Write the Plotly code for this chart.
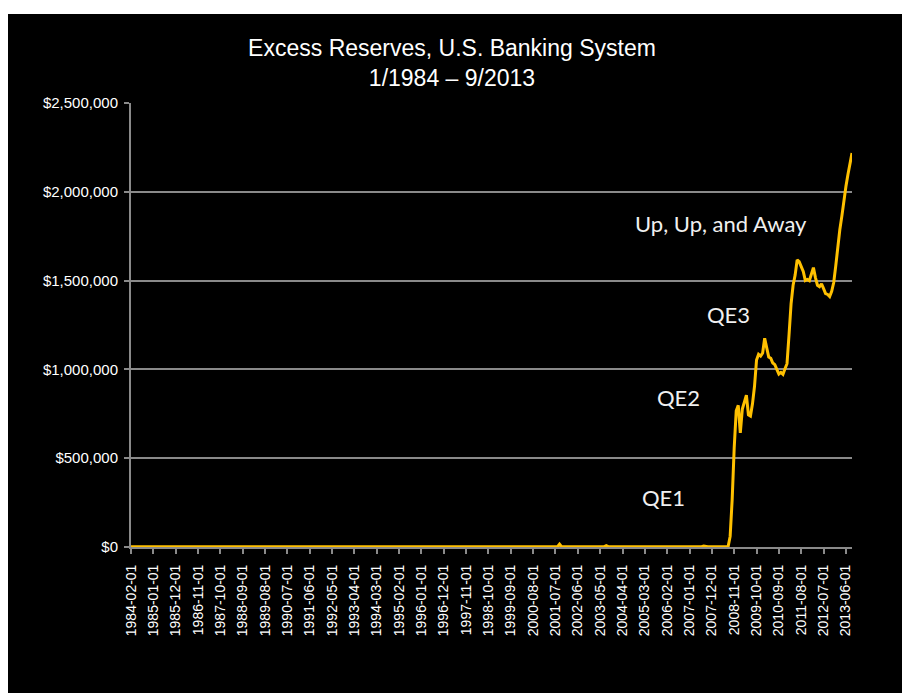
import pandas as pd
import plotly.graph_objects as go

# Excess reserves, millions of US$, monthly from 1984-02 to 2013-09
r1984 = [1000, 929, 1049, 1164, 1217, 1049, 1086, 935, 1013, 1193, 1266]
r1985 = [1204, 1089, 1015, 1236, 1124, 1016, 1148, 1024, 1167, 1100, 1046, 1365]
r1986 = [1305, 1157, 1103, 1216, 1203, 1264, 1197, 1324, 1208, 1310, 1349, 2046]
r1987 = [1454, 1040, 1201, 1183, 1063, 946, 1048, 1001, 930, 1112, 1024, 1080]
r1988 = [1278, 1007, 1048, 947, 1094, 1014, 984, 941, 1074, 1004, 1025, 1176]
r1989 = [1221, 947, 962, 1058, 845, 976, 1009, 1078, 954, 1006, 1032, 997]
r1990 = [1319, 1120, 938, 1025, 872, 1012, 1027, 981, 1060, 1001, 1034, 1385]
r1991 = [1521, 1103, 982, 1081, 1067, 1040, 1111, 1055, 1169, 1012, 1134, 1336]
r1992 = [1315, 1143, 1061, 1111, 1012, 1046, 1141, 1143, 1153, 1182, 1069, 1156]
r1993 = [1233, 1104, 1047, 1090, 1110, 1163, 1115, 1013, 1120, 1045, 1056, 1188]
r1994 = [1359, 1212, 1058, 1191, 1125, 1097, 1086, 1168, 1121, 1087, 1134, 1322]
r1995 = [1308, 1140, 1045, 1158, 1072, 1142, 1168, 1106, 1052, 1038, 1095, 1212]
r1996 = [1386, 1146, 1218, 1245, 1255, 1241, 1266, 1186, 1202, 1232, 1229, 1432]
r1997 = [1366, 1245, 1295, 1312, 1229, 1239, 1336, 1230, 1250, 1247, 1232, 1427]
r1998 = [1533, 1308, 1353, 1338, 1382, 1377, 1395, 1301, 1353, 1385, 1291, 1509]
r1999 = [1584, 1273, 1375, 1354, 1300, 1324, 1310, 1245, 1205, 1298, 1330, 1598]
r2000 = [1480, 1289, 1217, 1345, 1160, 1173, 1226, 1171, 1148, 1171, 1156, 1434]
r2001 = [1392, 1354, 1237, 1353, 1378, 1314, 1359, 1294, 15500, 1553, 1489, 1616]
r2002 = [1622, 1469, 1464, 1570, 1426, 1540, 1510, 1393, 1504, 1435, 1488, 1687]
r2003 = [1745, 1581, 1591, 1708, 1603, 1690, 1699, 7000, 1595, 1672, 1551, 1760]
r2004 = [1775, 1582, 1558, 1695, 1611, 1744, 1715, 1602, 1724, 1735, 1668, 1880]
r2005 = [1782, 1623, 1607, 1704, 1560, 1700, 1729, 1657, 1789, 1653, 1605, 1890]
r2006 = [1751, 1654, 1634, 1699, 1629, 1732, 1710, 1630, 1663, 1651, 1636, 1824]
r2007 = [1706, 1598, 1645, 1654, 1581, 1772, 1574, 6000, 1960, 1709, 1727, 1823]
r2008 = [1622, 1760, 2021, 1845, 1850, 2285, 1880, 1920, 59500, 267000, 559000, 767000]
r2009 = [798000, 642000, 777000, 812000, 855000, 744000, 737000, 806000, 905000, 1053000, 1085000, 1075000]
r2010 = [1092000, 1175000, 1115000, 1070000, 1063000, 1036000, 1027000, 1003000, 974000, 983000, 972000, 1004000]
r2011 = [1032000, 1196000, 1369000, 1474000, 1531000, 1616000, 1606000, 1579000, 1551000, 1501000, 1507000, 1500000]
r2012 = [1537000, 1573000, 1517000, 1474000, 1466000, 1482000, 1455000, 1427000, 1422000, 1410000, 1440000, 1489000]
r2013 = [1583000, 1707000, 1786000, 1863000, 1954000, 2030000, 2097000, 2168000, 2218000]

values = (r1984 + r1985 + r1986 + r1987 + r1988 + r1989 + r1990 + r1991 + r1992 + r1993
          + r1994 + r1995 + r1996 + r1997 + r1998 + r1999 + r2000 + r2001 + r2002 + r2003
          + r2004 + r2005 + r2006 + r2007 + r2008 + r2009 + r2010 + r2011 + r2012 + r2013)

months = [d.strftime("%Y-%m-%d") for d in pd.date_range("1984-02-01", periods=len(values), freq="MS")]
tick_labels = months[::11]

title_text = "Excess Reserves, U.S. Banking System<br>1/1984 – 9/2013"
# annotation centres, page pixels
notes = [("Up, Up, and Away", 721, 223), ("QE3", 728, 314),
         ("QE2", 678, 397), ("QE1", 663, 497)]

OFF = 8  # page body margin
W, H = 902, 685
L, R, T, B = 123, 58, 95, 146
pw, ph = W - L - R, H - T - B

def px_x(p):
    return (p - OFF - L) / pw

def px_y(p):
    return (H - B - (p - OFF)) / ph

fig = go.Figure()
fig.add_trace(go.Scatter(x=months, y=values, mode="lines",
                         line=dict(color="#FFC000", width=3), hoverinfo="skip"))

fig.add_shape(type="rect", xref="paper", yref="paper", layer="below",
              x0=px_x(8), x1=px_x(903), y0=px_y(700), y1=px_y(14),
              fillcolor="black", line=dict(width=0))

for txt, xa, ya in notes:
    fig.add_annotation(text=txt, xref="paper", yref="paper", x=px_x(xa), y=px_y(ya),
                       showarrow=False, xanchor="center", yanchor="middle",
                       font=dict(family="Lato", size=22, color="#f0f0f0"))

fig.update_layout(
    width=W, height=H,
    margin=dict(l=L, r=R, t=T, b=B),
    paper_bgcolor="white", plot_bgcolor="black",
    showlegend=False,
    title=dict(text=title_text, x=(452 - OFF) / W, xref="container", xanchor="center",
               y=1 - 48 / H, yref="container", yanchor="middle",
               font=dict(family="Liberation Sans, Arial", size=23, color="white")),
    xaxis=dict(type="category", range=[0, len(values) - 1],
               tickvals=tick_labels, ticktext=tick_labels, tickangle=-90,
               showgrid=False, showline=True, linecolor="#8a8a8a", linewidth=2,
               ticks="outside", ticklen=5, tickcolor="#8a8a8a", tickwidth=1.5,
               ticklabelstandoff=5,
               tickfont=dict(family="Liberation Sans, Arial", size=14, color="white"),
               zeroline=False),
    yaxis=dict(range=[0, 2500000], dtick=500000, tickformat="$,",
               showgrid=True, gridcolor="#8a8a8a", gridwidth=2,
               showline=True, linecolor="#8a8a8a", linewidth=2,
               ticks="outside", ticklen=5, tickcolor="#8a8a8a", tickwidth=1.5,
               ticklabelstandoff=3,
               tickfont=dict(family="Liberation Sans, Arial", size=15, color="white"),
               zeroline=False),
)

fig.write_html("out.html")
